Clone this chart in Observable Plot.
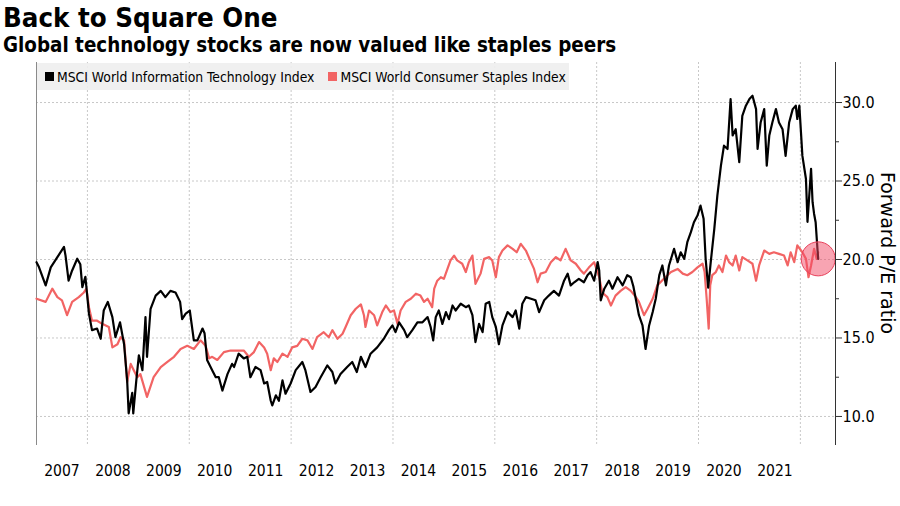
<!DOCTYPE html>
<html><head><meta charset="utf-8">
<script src="https://cdn.jsdelivr.net/npm/d3@7"></script>
<script src="https://cdn.jsdelivr.net/npm/@observablehq/plot@0.6"></script>
<style>
body{margin:0;background:#fff;font-family:"DejaVu Sans Condensed","DejaVu Sans",sans-serif;color:#000}
#wrap{position:relative;width:900px;height:506px;overflow:hidden;background:#fff}
#title{position:absolute;left:3px;top:2px;font-weight:bold;font-size:27.4px;line-height:32px;white-space:nowrap}
#subtitle{position:absolute;left:3px;top:33px;font-weight:bold;font-size:20.4px;line-height:24px;white-space:nowrap}
#chart{position:absolute;left:0;top:56px}
#legend{position:absolute;left:37px;top:63px;width:532px;height:27px;background:rgba(238,238,238,0.9);font-size:13.8px;display:flex;align-items:center;white-space:nowrap}
#legend .sw{display:inline-block;width:9px;height:9px;margin-right:3px}
#ylabel{position:absolute;left:888px;top:253px;transform:translate(-50%,-50%) rotate(90deg);font-family:"DejaVu Sans",sans-serif;font-size:19px;white-space:nowrap}
</style></head>
<body>
<div id="wrap">
  <div id="title">Back to Square One</div>
  <div id="subtitle">Global technology stocks are now valued like staples peers</div>
  <div id="chart"></div>
  <div id="legend"></div>
  <div id="ylabel">Forward P/E ratio</div>
</div>
<script>
// ---- data (decimal years, forward P/E) ----
const techYears = [2007.00,2007.05,2007.18,2007.28,2007.41,2007.54,2007.57,2007.63,2007.70,2007.80,2007.86,2007.90,2007.96,
2008.03,2008.09,2008.19,2008.26,2008.32,2008.40,2008.49,2008.55,2008.64,2008.72,2008.78,2008.81,2008.88,2008.90,2008.96,
2009.01,2009.08,2009.14,2009.17,2009.24,2009.34,2009.44,2009.53,2009.63,2009.73,2009.82,2009.86,2009.93,
2010.01,2010.09,2010.16,2010.26,2010.30,2010.35,2010.45,2010.52,2010.58,2010.65,2010.75,2010.84,2010.88,2010.97,
2011.07,2011.14,2011.20,2011.30,2011.40,2011.47,2011.53,2011.60,2011.63,2011.70,2011.76,2011.83,2011.89,2011.99,
2012.09,2012.22,2012.28,2012.38,2012.48,2012.58,2012.71,2012.81,2012.87,2012.97,
2013.10,2013.20,2013.29,2013.37,2013.46,2013.56,2013.69,2013.82,2013.92,2013.99,
2014.05,2014.12,2014.22,2014.28,2014.38,2014.48,2014.58,2014.68,2014.74,2014.79,2014.84,2014.90,2014.97,
2015.04,2015.10,2015.17,2015.23,2015.33,2015.43,2015.49,2015.56,2015.62,2015.69,2015.76,2015.82,2015.89,2015.95,
2016.02,2016.08,2016.15,2016.25,2016.35,2016.41,2016.48,2016.54,2016.61,2016.71,2016.80,2016.87,2016.97,
2017.06,2017.16,2017.26,2017.36,2017.43,2017.49,2017.56,2017.65,2017.75,2017.82,2017.88,2017.95,
2018.02,2018.05,2018.08,2018.15,2018.24,2018.31,2018.41,2018.51,2018.60,2018.67,2018.72,2018.80,2018.83,2018.90,2018.96,
2019.03,2019.10,2019.16,2019.23,2019.29,2019.36,2019.42,2019.52,2019.59,2019.65,2019.72,2019.78,2019.85,2019.91,2019.98,
2020.04,2020.10,2020.14,2020.19,2020.24,2020.31,2020.37,2020.44,2020.50,2020.57,2020.63,2020.67,2020.73,2020.80,2020.86,2020.93,
2021.00,2021.06,2021.13,2021.16,2021.22,2021.29,2021.34,2021.39,2021.45,2021.52,2021.58,2021.65,2021.71,2021.78,2021.85,2021.91,2021.94,2021.98,
2022.04,2022.11,2022.14,2022.21,2022.24,2022.27,2022.30,2022.34,2022.35];
const techPE = [19.83,19.5,18.35,19.5,20.15,20.8,20.25,18.65,19.3,20.05,19.7,18.24,18.9,
16.55,15.5,15.6,14.95,16.75,17.3,16.33,15.05,16.0,14.6,12.3,10.2,11.5,10.2,12.3,
13.9,12.95,16.33,13.8,16.86,17.7,18.0,17.6,18.0,17.9,17.3,16.2,16.55,
16.75,14.85,14.85,15.6,15.3,13.6,12.95,12.5,12.5,11.65,12.7,13.35,13.15,14.0,
13.7,13.8,12.5,13.15,12.95,12.1,12.2,11.0,10.7,11.35,11.0,12.3,11.45,12.1,
12.95,13.47,12.95,11.56,11.88,12.5,13.25,12.83,12.1,12.7,
13.15,13.47,12.83,13.8,13.15,14.0,14.4,14.95,15.5,15.8,
15.37,16.0,15.5,15.05,15.5,16.0,16.0,16.33,15.7,14.85,16.33,16.75,15.9,
16.65,16.2,17.07,16.75,17.18,16.96,17.07,16.45,14.74,15.9,15.37,17.18,17.3,16.33,
15.7,14.6,15.8,16.65,16.33,16.75,15.6,17.18,17.6,17.5,17.4,16.65,17.4,
17.7,18.0,17.7,18.65,19.1,18.35,18.55,18.77,18.55,19.0,19.2,18.65,
19.83,19.3,17.4,18.14,18.65,18.14,18.87,18.35,19.0,18.87,18.3,16.96,16.45,15.8,14.3,
15.8,16.65,17.5,19.0,19.62,18.35,19.62,20.68,19.83,20.46,20.04,21.1,21.74,22.37,22.8,
23.43,22.59,20.04,18.2,19.83,21.95,24.07,25.98,27.25,27.04,30.22,27.9,28.3,26.2,29.15,29.8,
30.22,30.43,29.58,27.04,28.73,29.58,25.98,27.9,28.73,29.58,28.73,28.3,26.6,28.73,29.58,29.8,28.95,29.8,
26.6,25.13,22.4,25.77,23.65,22.9,22.37,20.46,20.04];

const staplesYears = [2007.00,2007.18,2007.31,2007.41,2007.50,2007.60,2007.70,2007.83,2007.93,2007.98,
2008.03,2008.09,2008.19,2008.29,2008.42,2008.49,2008.59,2008.65,2008.72,2008.78,2008.85,2008.91,2008.98,
2009.04,2009.17,2009.30,2009.44,2009.57,2009.70,2009.83,2009.96,
2010.09,2010.22,2010.32,2010.39,2010.45,2010.55,2010.68,2010.81,2010.94,
2011.07,2011.17,2011.27,2011.37,2011.47,2011.53,2011.60,2011.66,2011.73,2011.83,2011.93,
2012.02,2012.12,2012.22,2012.32,2012.42,2012.51,2012.64,2012.74,2012.81,2012.91,
2013.01,2013.07,2013.17,2013.27,2013.37,2013.43,2013.46,2013.53,2013.63,2013.69,2013.79,2013.86,2013.95,
2014.02,2014.09,2014.15,2014.25,2014.35,2014.45,2014.54,2014.61,2014.68,2014.77,2014.81,2014.87,2014.94,
2015.00,2015.07,2015.13,2015.20,2015.26,2015.36,2015.43,2015.49,2015.56,2015.62,2015.72,2015.79,2015.89,2015.95,
2016.02,2016.08,2016.15,2016.25,2016.35,2016.43,2016.51,2016.61,2016.71,2016.77,2016.84,2016.90,
2017.00,2017.10,2017.20,2017.29,2017.39,2017.49,2017.59,2017.69,2017.75,2017.85,2017.95,
2018.05,2018.11,2018.21,2018.28,2018.37,2018.47,2018.57,2018.67,2018.77,2018.83,2018.93,
2019.00,2019.10,2019.19,2019.32,2019.46,2019.59,2019.69,2019.78,2019.88,2019.98,
2020.08,2020.12,2020.16,2020.20,2020.23,2020.27,2020.34,2020.40,2020.47,2020.54,2020.60,2020.67,2020.73,2020.80,2020.86,2020.96,
2021.06,2021.13,2021.19,2021.29,2021.39,2021.48,2021.58,2021.68,2021.75,2021.81,2021.88,2021.94,
2022.04,2022.11,2022.16,2022.21,2022.27,2022.32,2022.35];
const staplesPE = [17.5,17.3,18.14,17.6,17.4,16.45,17.3,17.6,17.9,18.14,
16.96,16.1,16.1,15.9,15.7,14.4,14.6,15.05,14.85,12.2,13.35,12.95,12.5,
12.7,11.25,12.5,13.15,13.47,13.8,14.3,14.5,
14.3,14.85,14.5,13.7,13.8,13.6,14.1,14.2,14.2,
14.2,13.8,14.1,14.74,14.4,14.0,12.95,13.7,13.47,14.0,13.8,
14.4,14.5,14.95,14.85,14.3,15.05,15.37,15.05,15.5,14.95,
15.27,15.7,16.45,16.86,17.14,16.45,15.7,16.75,16.45,15.8,16.65,17.07,16.65,
16.75,15.9,16.75,17.3,17.5,17.82,17.7,17.3,17.5,16.96,18.14,18.65,18.87,
18.77,19.4,19.94,20.25,19.94,19.73,19.2,19.83,20.25,18.45,19.1,20.04,20.15,19.94,
18.87,20.15,20.57,20.9,20.68,20.46,21.0,20.57,19.83,19.4,18.55,19.1,
19.2,19.83,20.15,19.94,20.68,19.94,19.73,19.3,19.1,19.5,19.83,
18.87,17.9,17.6,17.07,17.7,18.0,18.24,18.0,17.6,17.3,16.45,
16.86,17.5,18.35,18.77,19.2,19.4,19.1,19.0,19.2,19.5,
19.73,19.2,17.5,15.6,18.35,19.0,19.2,19.62,19.2,20.25,19.83,19.62,20.25,19.3,20.15,19.94,
19.73,18.65,19.62,20.57,20.36,20.46,20.36,20.25,19.62,20.46,19.83,20.9,
20.46,20.04,18.87,19.62,20.68,20.04,20.46];

const seriesNames = ["MSCI World Information Technology Index","MSCI World Consumer Staples Index"];
const seriesColors = ["#000000","#f26464"];
const yTicks = [10,15,20,25,30];
const yMinorTicks = [12.5,17.5,22.5,27.5];
const xLabelYears = [2007,2008,2009,2010,2011,2012,2013,2014,2015,2016,2017,2018,2019,2020,2021];
const xGridYears = [2008,2010,2012,2014,2016,2018,2020,2022];
const xDomain = [2007, 2022.69];
const yDomain = [8.15, 32.55];

// ---- build tables ----
const tech = techYears.map((t,i)=>({t, v: techPE[i]}));
const staples = staplesYears.map((t,i)=>({t, v: staplesPE[i]}));
const lastPoint = tech[tech.length-1];

const font = '"DejaVu Sans Condensed","DejaVu Sans",sans-serif';
const chart = Plot.plot({
  width: 900, height: 450,
  marginLeft: 36, marginRight: 65, marginTop: 6, marginBottom: 61,
  style: {fontFamily: font, background: "transparent", color: "#000"},
  x: {domain: xDomain, axis: null},
  y: {domain: yDomain, axis: null},
  marks: [
    Plot.gridX(xGridYears, {stroke: "#c8c8c8", strokeOpacity: 1, strokeDasharray: "2,2"}),
    Plot.gridY(yTicks, {stroke: "#c8c8c8", strokeOpacity: 1, strokeDasharray: "2,2"}),
    Plot.ruleX([xDomain[0]], {stroke: "#8a8a8a", strokeWidth: 1}),
    Plot.line(staples, {x: "t", y: "v", stroke: seriesColors[1], strokeWidth: 2.2}),
    Plot.line(tech, {x: "t", y: "v", stroke: seriesColors[0], strokeWidth: 2.2}),
    Plot.dot([lastPoint], {x: "t", y: "v", r: 17, fill: "#f24a66", fillOpacity: 0.5, stroke: "#e8405a", strokeWidth: 1}),
    Plot.ruleX([xDomain[1]], {stroke: "#333", strokeWidth: 1}),
    Plot.axisY(yTicks, {anchor: "right", tickSize: 6, tickPadding: 1, fontSize: 16, tickFormat: d => d.toFixed(1), label: null, stroke: "#333"}),
    Plot.axisY(yMinorTicks, {anchor: "right", tickSize: 3, tickFormat: () => "", label: null, stroke: "#333"}),
    Plot.axisX(xLabelYears.map(y => y + 0.5), {anchor: "bottom", tickSize: 0, tickPadding: 19, fontSize: 15.5, tickFormat: d => String(Math.floor(d)), label: null})
  ]
});
document.getElementById("chart").appendChild(chart);

// legend
const lg = document.getElementById("legend");
seriesNames.forEach((n,i)=>{
  const item = document.createElement("span");
  item.style.display = "inline-flex";
  item.style.alignItems = "center";
  item.style.marginLeft = i === 0 ? "8px" : "14px";
  const sw = document.createElement("span");
  sw.className = "sw";
  sw.style.background = seriesColors[i];
  item.appendChild(sw);
  item.appendChild(document.createTextNode(n));
  lg.appendChild(item);
});
</script>
</body></html>
